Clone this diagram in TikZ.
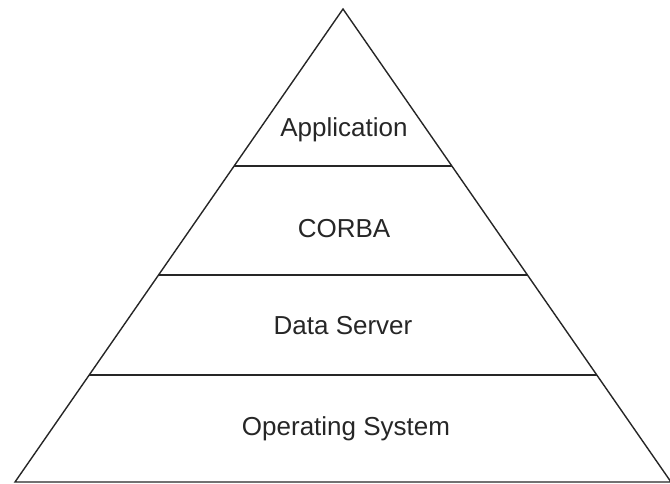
\documentclass[tikz,border=0pt]{standalone}
\usepackage{fontspec}
\setmainfont{Liberation Sans}
\usetikzlibrary{calc}

\begin{document}
\begin{tikzpicture}[
  x=1pt, y=-1pt,
  edge/.style={draw=black!85, line width=1.4pt, line join=miter},
  layer/.style={font=\fontsize{26}{30}\selectfont, text=black!85, inner sep=0pt, anchor=base}
]
\useasboundingbox (0,0) rectangle (670,483);
% outline of the pyramid
\coordinate (apex) at (343,9);
\coordinate (baseL) at (15,482);
\coordinate (baseR) at (671,482);
\draw[edge] (apex) -- (baseL) -- (baseR) -- cycle;
% dividers between the layers
\foreach \t/\nm in {0.332/one, 0.562/two, 0.774/three} {
  \coordinate (\nm L) at ($(apex)!\t!(baseL)$);
  \coordinate (\nm R) at ($(apex)!\t!(baseR)$);
  \draw[edge] (\nm L) -- (\nm R);
}
% layer names
\node[layer] (app) at (344,136) {Application};
\node[layer] (corba) at (344,237) {CORBA};
\node[layer] (data) at (343,334) {Data Server};
\node[layer] (os) at (346,435) {Operating System};
\end{tikzpicture}
\end{document}
